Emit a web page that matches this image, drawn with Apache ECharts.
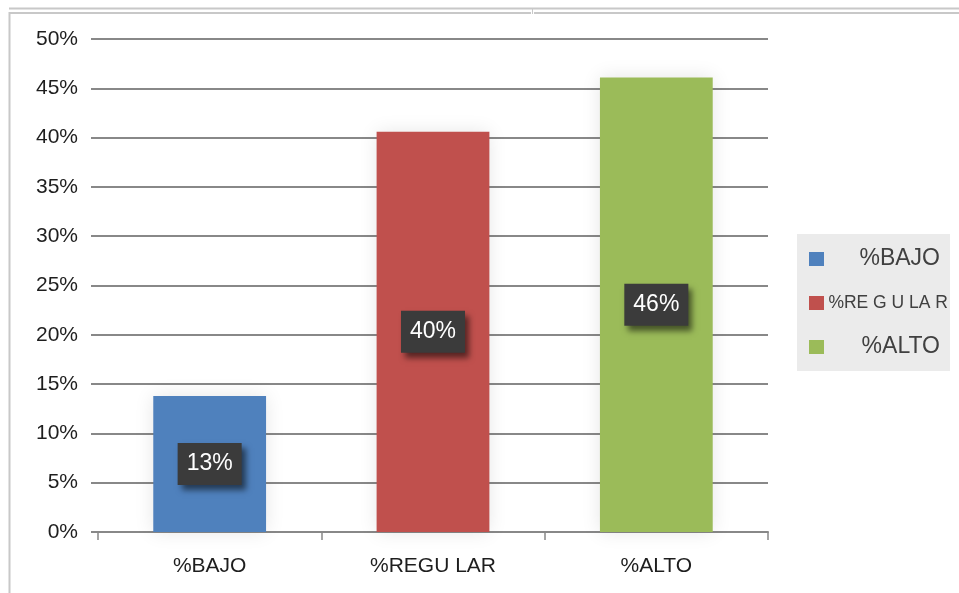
<!DOCTYPE html>
<html>
<head>
<meta charset="utf-8">
<script src="https://cdn.jsdelivr.net/npm/echarts@6/dist/echarts.min.js"></script>
<style>
html,body{margin:0;padding:0;background:#fff;}
#chart{width:959px;height:593px;}
</style>
</head>
<body>
<div id="chart"></div>
<script>
// Data
var categories = ['%BAJO', '%REGU LAR', '%ALTO'];
var seriesNames = ['%BAJO', '%REGULAR', '%ALTO'];
var legendLabels = ['%BAJO', '%RE G U LA R', '%ALTO'];
var values = [13.8, 40.6, 46.1];
var valueLabels = ['13%', '40%', '46%'];
var colors = ['#4f81bd', '#c0504d', '#9bbb59'];
var yTicks = [0, 5, 10, 15, 20, 25, 30, 35, 40, 45, 50];

var FONT = '"Liberation Sans", Arial, sans-serif';
var chart = echarts.init(document.getElementById('chart'));

var series = seriesNames.map(function (name, i) {
  var data = categories.map(function (c, j) { return j === i ? values[i] : null; });
  return {
    name: name,
    type: 'bar',
    data: data,
    barWidth: '50.5%',
    barGap: '-100%',
    itemStyle: {
      color: colors[i],
      shadowBlur: 18,
      shadowColor: 'rgba(0,0,0,0.10)'
    },
    label: {
      show: true,
      position: 'inside',
      formatter: function () { return valueLabels[i]; },
      color: '#ffffff',
      fontFamily: FONT,
      fontSize: 23,
      lineHeight: 25,
      backgroundColor: '#3b3b3b',
      padding: [9, 9, 8, 9],
      shadowColor: 'rgba(0,0,0,0.55)',
      shadowBlur: 6,
      shadowOffsetX: 4,
      shadowOffsetY: 5
    }
  };
});

var option = {
  backgroundColor: '#ffffff',
  animation: false,
  grid: { left: 98, right: 191, top: 39, bottom: 61, containLabel: false },
  xAxis: {
    type: 'category',
    data: categories,
    axisLine: { show: true, lineStyle: { color: '#888888', width: 2 } },
    axisTick: { show: true, length: 8, lineStyle: { color: '#888888', width: 1.5 } },
    axisLabel: {
      color: '#1e1e1e',
      fontFamily: FONT,
      fontSize: 21,
      margin: 24
    }
  },
  yAxis: {
    type: 'value',
    min: yTicks[0],
    max: yTicks[yTicks.length - 1],
    interval: 5,
    axisLine: { show: false },
    axisTick: { show: true, length: 7, lineStyle: { color: '#888888', width: 2 } },
    splitLine: { show: true, lineStyle: { color: '#888888', width: 2 } },
    axisLabel: {
      color: '#1e1e1e',
      fontFamily: FONT,
      fontSize: 21,
      margin: 20,
      formatter: function (v) { return v + '%'; }
    }
  },
  legend: {
    orient: 'vertical',
    left: 797,
    top: 234,
    padding: [13.5, 2, 12.5, 12],
    itemGap: 23.5,
    itemWidth: 15,
    itemHeight: 14,
    icon: 'rect',
    backgroundColor: '#ebebeb',
    data: seriesNames,
    formatter: function (name) {
      var i = seriesNames.indexOf(name);
      return (i === 1 ? '{n|' : '{w|') + legendLabels[i] + '}';
    },
    textStyle: {
      rich: {
        w: {
          color: '#404040',
          fontFamily: FONT,
          fontSize: 23,
          lineHeight: 24,
          width: 111,
          align: 'right'
        },
        n: {
          color: '#404040',
          fontFamily: FONT,
          fontSize: 17.5,
          lineHeight: 24,
          width: 119,
          align: 'right'
        }
      }
    }
  },
  graphic: [
    { type: 'line', silent: true, shape: { x1: 9, y1: 8.5, x2: 959, y2: 8.5 }, style: { stroke: '#c8c8c8', lineWidth: 2 } },
    { type: 'line', silent: true, shape: { x1: 10, y1: 13, x2: 531, y2: 13 }, style: { stroke: '#c8c8c8', lineWidth: 2 } },
    { type: 'line', silent: true, shape: { x1: 534, y1: 13, x2: 959, y2: 13 }, style: { stroke: '#c8c8c8', lineWidth: 2 } },
    { type: 'line', silent: true, shape: { x1: 532.5, y1: 9, x2: 532.5, y2: 14 }, style: { stroke: '#c8c8c8', lineWidth: 1 } },
    { type: 'line', silent: true, shape: { x1: 9.5, y1: 12, x2: 9.5, y2: 593 }, style: { stroke: '#c8c8c8', lineWidth: 2 } }
  ],
  series: series
};

chart.setOption(option);
</script>
</body>
</html>
